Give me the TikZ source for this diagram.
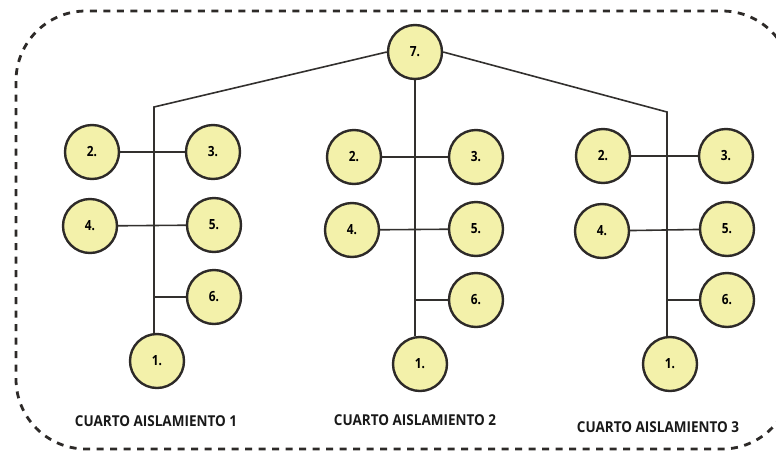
\documentclass[tikz,border=0pt]{standalone}
\usepackage{fontspec}
\usetikzlibrary{backgrounds}
\setmainfont{Open Sans}[FakeStretch=0.9]
\newfontfamily\numfont{Open Sans}[FakeStretch=0.85]
\definecolor{nodefill}{RGB}{243,241,170}
\definecolor{edgecol}{RGB}{45,42,40}
\definecolor{linecol}{RGB}{50,48,46}
\begin{document}
\begin{tikzpicture}[x=1pt,y=-1pt,
  bub/.style={circle,draw=edgecol,line width=2.4pt,fill=nodefill,minimum size=54pt,inner sep=0pt,font=\numfont\bfseries\fontsize{14}{16}\selectfont},
  conn/.style={draw=linecol,line width=1.6pt},
  roomlabel/.style={font=\bfseries\fontsize{15}{17}\selectfont,text=black!90},
  frame/.style={draw=edgecol,line width=2.8pt,dash pattern=on 7pt off 6.5pt,rounded corners=70pt}]
\useasboundingbox (0,0) rectangle (776,453);
% top node
\node[bub] (n7) at (415,52) {7.};
% column 1
\coordinate (t1) at (154,107);
\node[bub] (a2) at (92,152) {2.};
\node[bub] (a3) at (213,152) {3.};
\node[bub] (a4) at (90,226) {4.};
\node[bub] (a5) at (214,225) {5.};
\node[bub] (a6) at (214,297) {6.};
\node[bub] (a1) at (157,361) {1.};
\coordinate (b1) at (154,333);
\coordinate (j1) at (154,297);
% column 2
\node[bub] (c2) at (354,157) {2.};
\node[bub] (c3) at (476,157) {3.};
\node[bub] (c4) at (352,230) {4.};
\node[bub] (c5) at (476,229) {5.};
\node[bub] (c6) at (476,300) {6.};
\node[bub] (c1) at (420,364) {1.};
\coordinate (b2) at (415,336);
\coordinate (j2) at (415,300);
% column 3
\coordinate (t3) at (667,112);
\node[bub] (d2) at (603,156) {2.};
\node[bub] (d3) at (726,156) {3.};
\node[bub] (d4) at (602,231) {4.};
\node[bub] (d5) at (727,229) {5.};
\node[bub] (d6) at (727,300) {6.};
\node[bub] (d1) at (670,364) {1.};
\coordinate (b3) at (667,336);
\coordinate (j3) at (667,300);
% labels
\node[roomlabel] (l1) at (156,421) {CUARTO AISLAMIENTO 1};
\node[roomlabel] (l2) at (415,420) {CUARTO AISLAMIENTO 2};
\node[roomlabel] (l3) at (658,427) {CUARTO AISLAMIENTO 3};
\begin{pgfonlayer}{background}
\begin{scope}
\clip (0,0) rectangle (776,453);
\draw[frame] (16,11) rectangle (792,449);
\end{scope}
\draw[conn] (n7.west) -- (t1) -- (b1);
\draw[conn] (a2) -- (a3);
\draw[conn] (a4) -- (a5);
\draw[conn] (j1) -- (a6);
\draw[conn] (n7.south) -- (b2);
\draw[conn] (c2) -- (c3);
\draw[conn] (c4) -- (c5);
\draw[conn] (j2) -- (c6);
\draw[conn] (n7.east) -- (t3) -- (b3);
\draw[conn] (d2) -- (d3);
\draw[conn] (d4) -- (d5);
\draw[conn] (j3) -- (d6);
\end{pgfonlayer}
\end{tikzpicture}
\end{document}
